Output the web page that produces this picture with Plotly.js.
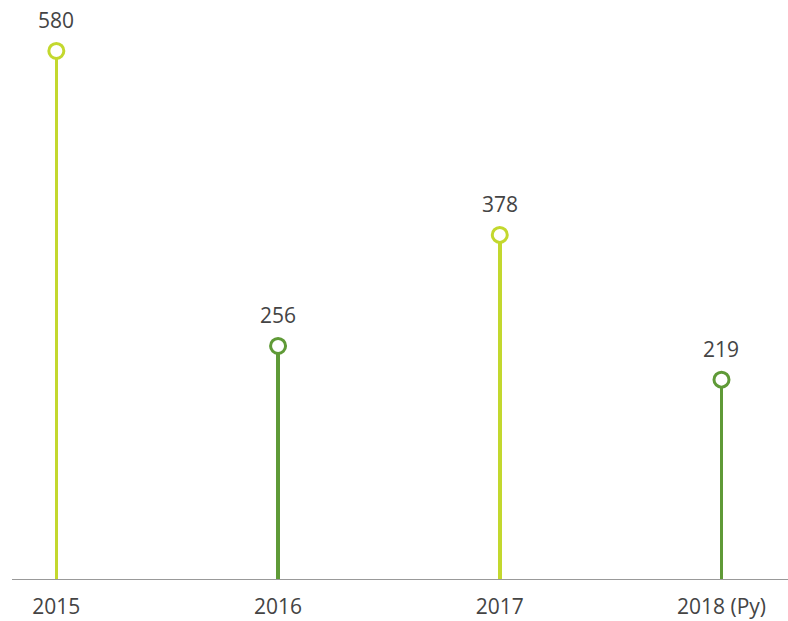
<!DOCTYPE html>
<html><head><meta charset="utf-8">
<script src="https://cdn.plot.ly/plotly-3.0.1.min.js"></script>
<style>html,body{margin:0;padding:0;background:#fff}#chart{width:788px;height:621px}</style>
</head><body><div id="chart"></div>
<script>
const categories = ["2015", "2016", "2017", "2018 (Py)"];
const values = [580, 256, 378, 219];
const colors = ["#c3d82e", "#5f9a37", "#c3d82e", "#5f9a37"];

const stems = {
  type: "bar", x: categories, y: values, width: 0.016,
  marker: {color: colors, line: {width: 0}}, hoverinfo: "skip"
};
const heads = {
  type: "scatter", mode: "markers", x: categories, y: values,
  marker: {symbol: "circle", size: 15, color: "#ffffff", line: {color: colors, width: 3}},
  cliponaxis: false, hoverinfo: "skip"
};
const annotations = categories.map((c, i) => ({
  xref: "x", yref: "y", x: i, y: values[i], text: String(values[i]), showarrow: false, yshift: 31,
  font: {family: "'Open Sans', sans-serif", size: 21, color: "#444444"}
}));

Plotly.newPlot("chart", [stems, heads], {
  width: 788, height: 621,
  margin: {l: 12, r: 0, t: 0, b: 42},
  paper_bgcolor: "#fff", plot_bgcolor: "#fff",
  showlegend: false, bargap: 0,
  xaxis: {type: "category", range: [-0.2, 3.3], showline: true, linecolor: "#999999", linewidth: 1,
          showgrid: false, zeroline: false, ticks: "", ticklabelstandoff: 9,
          tickfont: {family: "'Open Sans', sans-serif", size: 21, color: "#444444"}},
  yaxis: {range: [0, 636], visible: false, showgrid: false, zeroline: false},
  annotations: annotations
}, {staticPlot: true});
</script></body></html>
